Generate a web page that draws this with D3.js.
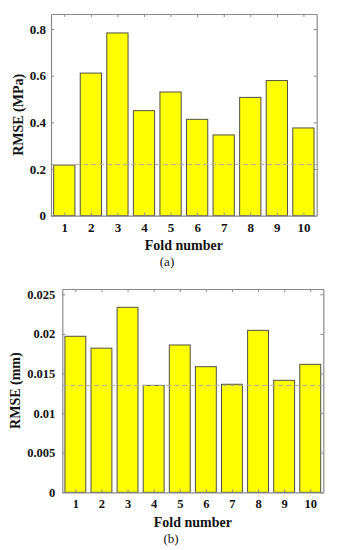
<!DOCTYPE html>
<html><head><meta charset="utf-8">
<script src="https://cdn.jsdelivr.net/npm/d3@7"></script>
<style>body{margin:0;background:#fff}svg{display:block}</style>
</head><body>
<svg id="c" width="339" height="550"></svg>
<script>
const folds = [1,2,3,4,5,6,7,8,9,10];
const rmseStress = [0.217,0.611,0.783,0.450,0.530,0.413,0.346,0.507,0.579,0.376];
const stressTicks = [0,0.2,0.4,0.6,0.8];
const stressTickLabels = ["0","0.2","0.4","0.6","0.8"];
const stressRef = 0.219;
const rmseDisp = [0.0197,0.0182,0.02336,0.0135,0.0186,0.01586,0.01364,0.02045,0.01414,0.01616];
const dispTicks = [0,0.005,0.01,0.015,0.02,0.025];
const dispTickLabels = ["0","0.005","0.01","0.015","0.02","0.025"];
const dispRef = 0.0135;

const svg = d3.select("#c");
const FONT = "'Liberation Serif','Times New Roman',serif";

function panel(o){
  const g = svg.append("g");
  const x = d3.scaleLinear().domain([0.5,10.5]).range([o.left,o.right]);
  const y = d3.scaleLinear().domain([0,o.ymax]).range([o.bottom,o.top]);
  const bw = (x(1)-x(0))*0.8;
  g.selectAll("rect.bar").data(o.values).enter().append("rect")
    .attr("x",(d,i)=>x(folds[i])-bw/2).attr("width",bw)
    .attr("y",d=>y(d)).attr("height",d=>y(0)-y(d))
    .attr("fill","#ffff00").attr("stroke","#505045").attr("stroke-width",1);
  g.append("line").attr("x1",x(0.5)).attr("x2",x(10.5))
    .attr("y1",y(o.ref)).attr("y2",y(o.ref))
    .attr("stroke","#b0b0a0").attr("stroke-width",1).attr("stroke-dasharray","5,3");
  const axB = d3.axisBottom(x).tickValues(folds).tickSize(-3).tickSizeOuter(0).tickPadding(7).tickFormat(d3.format("d"));
  const axT = d3.axisTop(x).tickValues(folds).tickSize(-3).tickSizeOuter(0).tickFormat("");
  const axL = d3.axisLeft(y).tickValues(o.ticks).tickSize(-3).tickSizeOuter(0).tickPadding(o.ypad).tickFormat((d,i)=>o.tickLabels[i]);
  const axR = d3.axisRight(y).tickValues(o.ticks).tickSize(-3).tickSizeOuter(0).tickFormat("");
  const gb = g.append("g").attr("transform",`translate(0,${o.bottom})`).call(axB);
  const gt = g.append("g").attr("transform",`translate(0,${o.top})`).call(axT);
  const gl = g.append("g").attr("transform",`translate(${o.left},0)`).call(axL);
  const gr = g.append("g").attr("transform",`translate(${o.right},0)`).call(axR);
  [gb,gt,gl,gr].forEach(a=>{
    a.select(".domain").attr("stroke","#8a8a8a").attr("stroke-width",1.2);
    a.selectAll(".tick line").attr("stroke","#8a8a8a");
    a.selectAll("text").attr("font-family",FONT).attr("font-weight","bold").attr("font-size",o.tfs).attr("fill","#111");
  });
  g.append("text").attr("x",(o.left+o.right)/2+o.xlabDx).attr("y",o.xlabY)
    .attr("text-anchor","middle").attr("font-family",FONT).attr("font-weight","bold")
    .attr("font-size",14).attr("fill","#111").text("Fold number");
  g.append("text").attr("transform",`translate(${o.ylabX},${(o.top+o.bottom)/2}) rotate(-90)`)
    .attr("text-anchor","middle").attr("font-family",FONT).attr("font-weight","bold")
    .attr("font-size",14).attr("fill","#111").text(o.ylab);
  g.append("text").attr("x",o.capX).attr("y",o.capY)
    .attr("text-anchor","middle").attr("font-family",FONT)
    .attr("font-size",13).attr("fill","#111").text(o.cap);
}

panel({left:51,right:316.7,top:14,bottom:215.7,ymax:0.8643,values:rmseStress,ticks:stressTicks,
  tickLabels:stressTickLabels,ref:stressRef,ylab:"RMSE (MPa)",ylabX:23,xlabY:250,xlabDx:0,cap:"(a)",capX:167,capY:266,tfs:13,ypad:5});
panel({left:62.3,right:323.3,top:289,bottom:492.3,ymax:0.02567,values:rmseDisp,ticks:dispTicks,
  tickLabels:dispTickLabels,ref:dispRef,ylab:"RMSE (mm)",ylabX:20,xlabY:527,xlabDx:0,cap:"(b)",capX:171,capY:543,tfs:12.5,ypad:7});
</script>
</body></html>
